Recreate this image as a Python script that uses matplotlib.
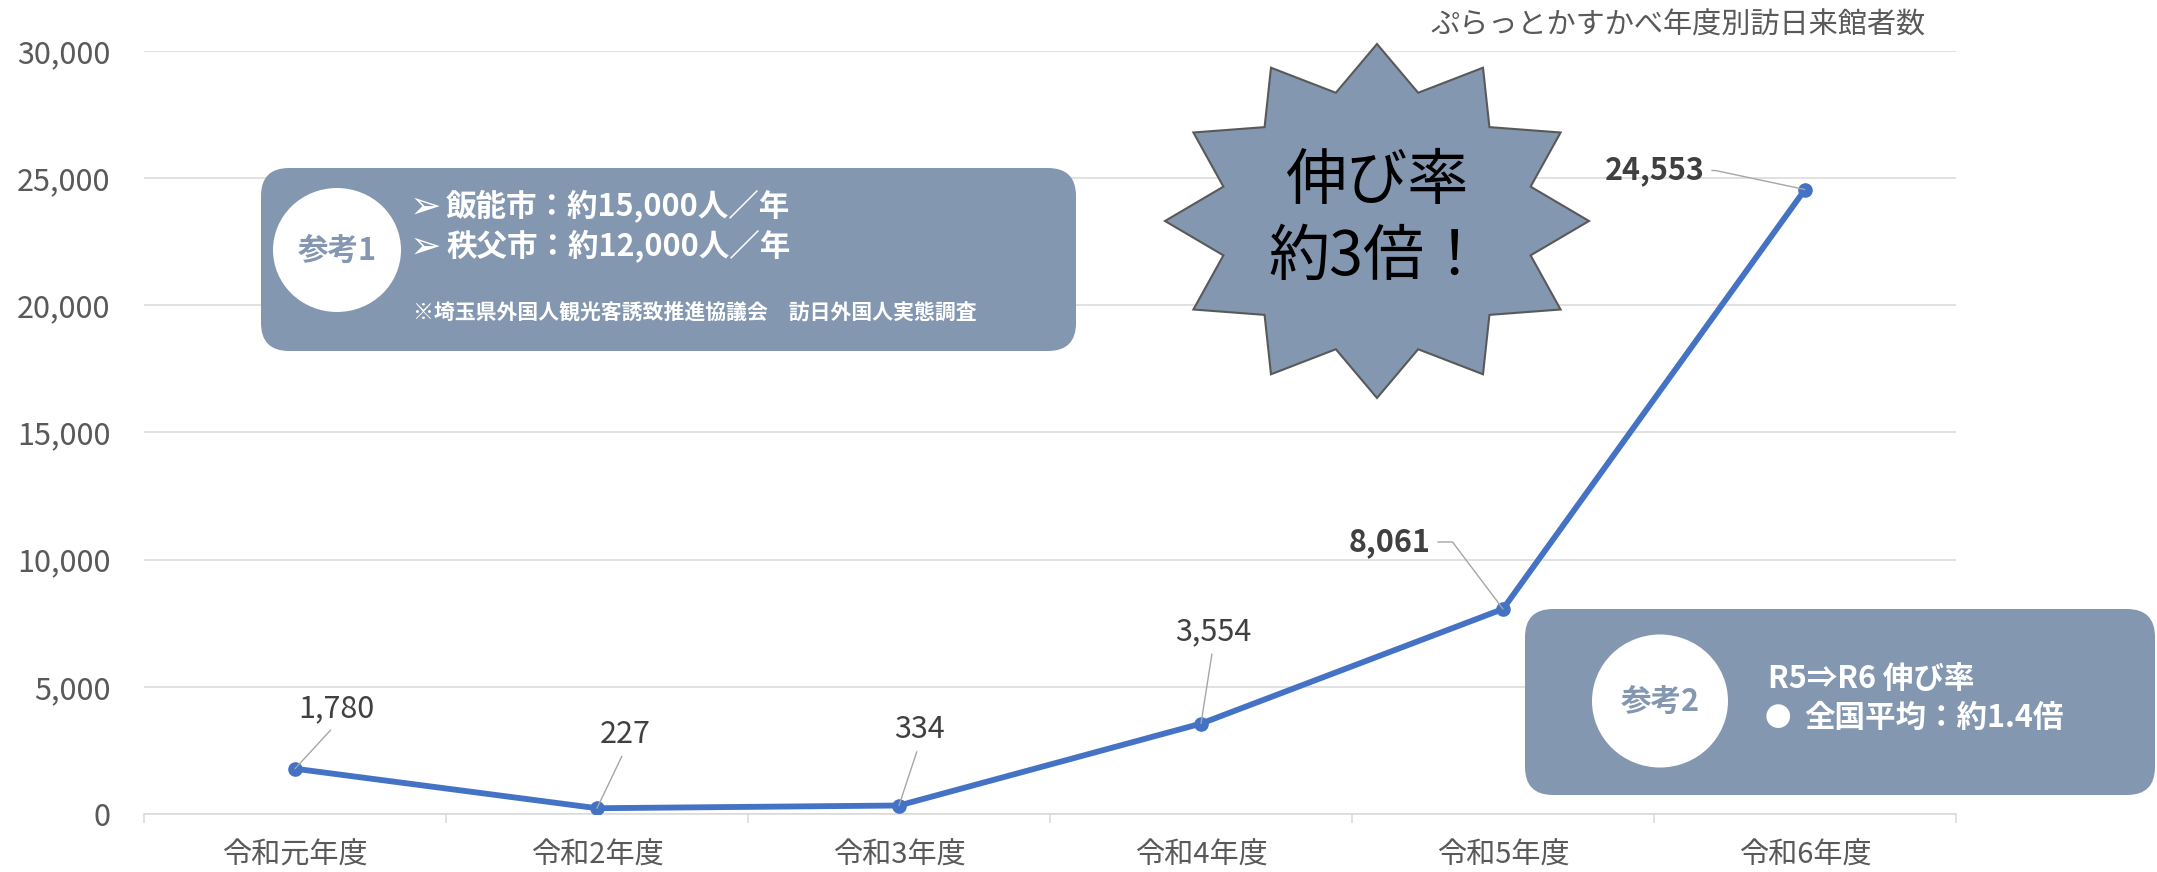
import numpy as np
import matplotlib.pyplot as plt
from matplotlib.patches import FancyBboxPatch, Ellipse, Polygon
from matplotlib.ticker import FuncFormatter

plt.rcParams['font.family'] = ['Noto Sans CJK JP', 'DejaVu Sans']

# chart data
years = ['令和元年度', '令和2年度', '令和3年度', '令和4年度', '令和5年度', '令和6年度']
visitors = [1780, 227, 334, 3554, 8061, 24553]
y_ticks = [0, 5000, 10000, 15000, 20000, 25000, 30000]
title = 'ぷらっとかすかべ年度別訪日来館者数'

ref1_head = '参考1'
ref1_lines = ['飯能市：約15,000人／年', '秩父市：約12,000人／年']
ref1_note = '※埼玉県外国人観光客誘致推進協議会　訪日外国人実態調査'
ref2_head = '参考2'
ref2_lines = ['R5⇒R6 伸び率', '全国平均：約1.4倍']
burst_lines = ['伸び率', '約3倍！']

# where each value label sits relative to its point (pixels), and how it looks
label_offsets = [(41, 60), (28, 74), (20, 76), (12, 92), (-113, 67), (-150, 19)]
label_bold = [False, False, False, False, True, True]
leader_angle = [None, None, None, None, -53, -12]

W, H = 2157, 872
BOX = '#8497B0'
GRID = '#D9D9D9'
TXT = '#595959'

fig = plt.figure(figsize=(W / 100, H / 100), dpi=100)
ax = fig.add_axes([144 / W, (H - 814) / H, (1956 - 144) / W, (814 - 51) / H])

x = np.arange(len(years))
ax.plot(x, visitors, color='#4472C4', lw=4.2, marker='o', ms=9.5, zorder=3)

ax.set_xlim(-0.5, len(years) - 0.5)
ax.set_ylim(y_ticks[0], y_ticks[-1])
ax.set_yticks(y_ticks)
ax.yaxis.set_major_formatter(FuncFormatter(lambda v, p: f'{v:,.0f}'))
ax.set_xticks(x)
ax.set_xticklabels(years)
ax.set_xticks(np.arange(-0.5, len(years)), minor=True)
ax.tick_params(axis='x', which='major', length=0, pad=19, labelsize=21, labelcolor=TXT)
ax.tick_params(axis='x', which='minor', length=6.5, width=1.1, color=GRID)
ax.tick_params(axis='y', length=0, pad=24, labelsize=22, labelcolor=TXT)
ax.grid(axis='y', color=GRID, lw=1.1)
ax.set_axisbelow(True)
for s in ['top', 'right', 'left']:
    ax.spines[s].set_visible(False)
ax.spines['bottom'].set_color(GRID)
ax.spines['bottom'].set_linewidth(1.1)

# value labels with leader lines
for i, v in enumerate(visitors):
    if leader_angle[i] is None:
        conn = 'arc3'
        rel = (0.5, 0)
    else:
        conn = f'angle,angleA=0,angleB={leader_angle[i]},rad=0'
        rel = (1, 0.5)
    ax.annotate(f'{v:,}', xy=(i, v), xytext=label_offsets[i], textcoords='offset pixels',
                ha='center', va='center', fontsize=22, color='#404040',
                fontweight='bold' if label_bold[i] else 'normal',
                arrowprops=dict(arrowstyle='-', color='#A6A6A6', lw=1,
                                shrinkA=3, shrinkB=0, relpos=rel, connectionstyle=conn),
                zorder=4)

# overlay in pixel units for the call-out shapes
ov = fig.add_axes([0, 0, 1, 1])
ov.set_xlim(0, W)
ov.set_ylim(H, 0)
ov.axis('off')

ov.text(1678, 26, title, ha='center', va='center', fontsize=21, color=TXT)

# reference box 1
ov.add_patch(FancyBboxPatch((261, 168), 815, 183, boxstyle='round,pad=0,rounding_size=28',
                            fc=BOX, ec='none'))
ov.add_patch(Ellipse((337, 250), 128, 124, fc='white', ec='none'))
ov.text(337, 252, ref1_head, ha='center', va='center', fontsize=22, fontweight='bold', color=BOX)
for k, line in enumerate(ref1_lines):
    ov.text(410, 208 + 40 * k, '➢', ha='left', va='center', fontsize=27,
            family='DejaVu Sans', color='white')
    ov.text(446, 207 + 40 * k, line, ha='left', va='center', fontsize=22,
            fontweight='bold', color='white')
ov.text(413, 312, ref1_note, ha='left', va='center', fontsize=15, fontweight='bold', color='white')

# reference box 2
ov.add_patch(FancyBboxPatch((1525, 609), 630, 186, boxstyle='round,pad=0,rounding_size=28',
                            fc=BOX, ec='none'))
ov.add_patch(Ellipse((1660, 701), 136, 133, fc='white', ec='none'))
ov.text(1660, 703, ref2_head, ha='center', va='center', fontsize=22, fontweight='bold', color=BOX)
ov.text(1768, 679, ref2_lines[0], ha='left', va='center', fontsize=22,
        fontweight='bold', color='white')
ov.text(1765, 718, '●', ha='left', va='center', fontsize=19, color='white')
ov.text(1804, 718, ref2_lines[1], ha='left', va='center', fontsize=22,
        fontweight='bold', color='white')

# 12 point burst
ang = np.deg2rad(90 - np.arange(24) * 15)
r = np.where(np.arange(24) % 2 == 0, 1.0, 0.75)
star = np.column_stack([1377 + 212 * r * np.cos(ang), 221 - 177 * r * np.sin(ang)])
ov.add_patch(Polygon(star, closed=True, fc=BOX, ec='#595959', lw=1.5))
ov.text(1377, 182, burst_lines[0], ha='center', va='center', fontsize=44, color='black')
ov.text(1377, 258, burst_lines[1], ha='center', va='center', fontsize=44, color='black')

fig.savefig('out.png', dpi=100)
